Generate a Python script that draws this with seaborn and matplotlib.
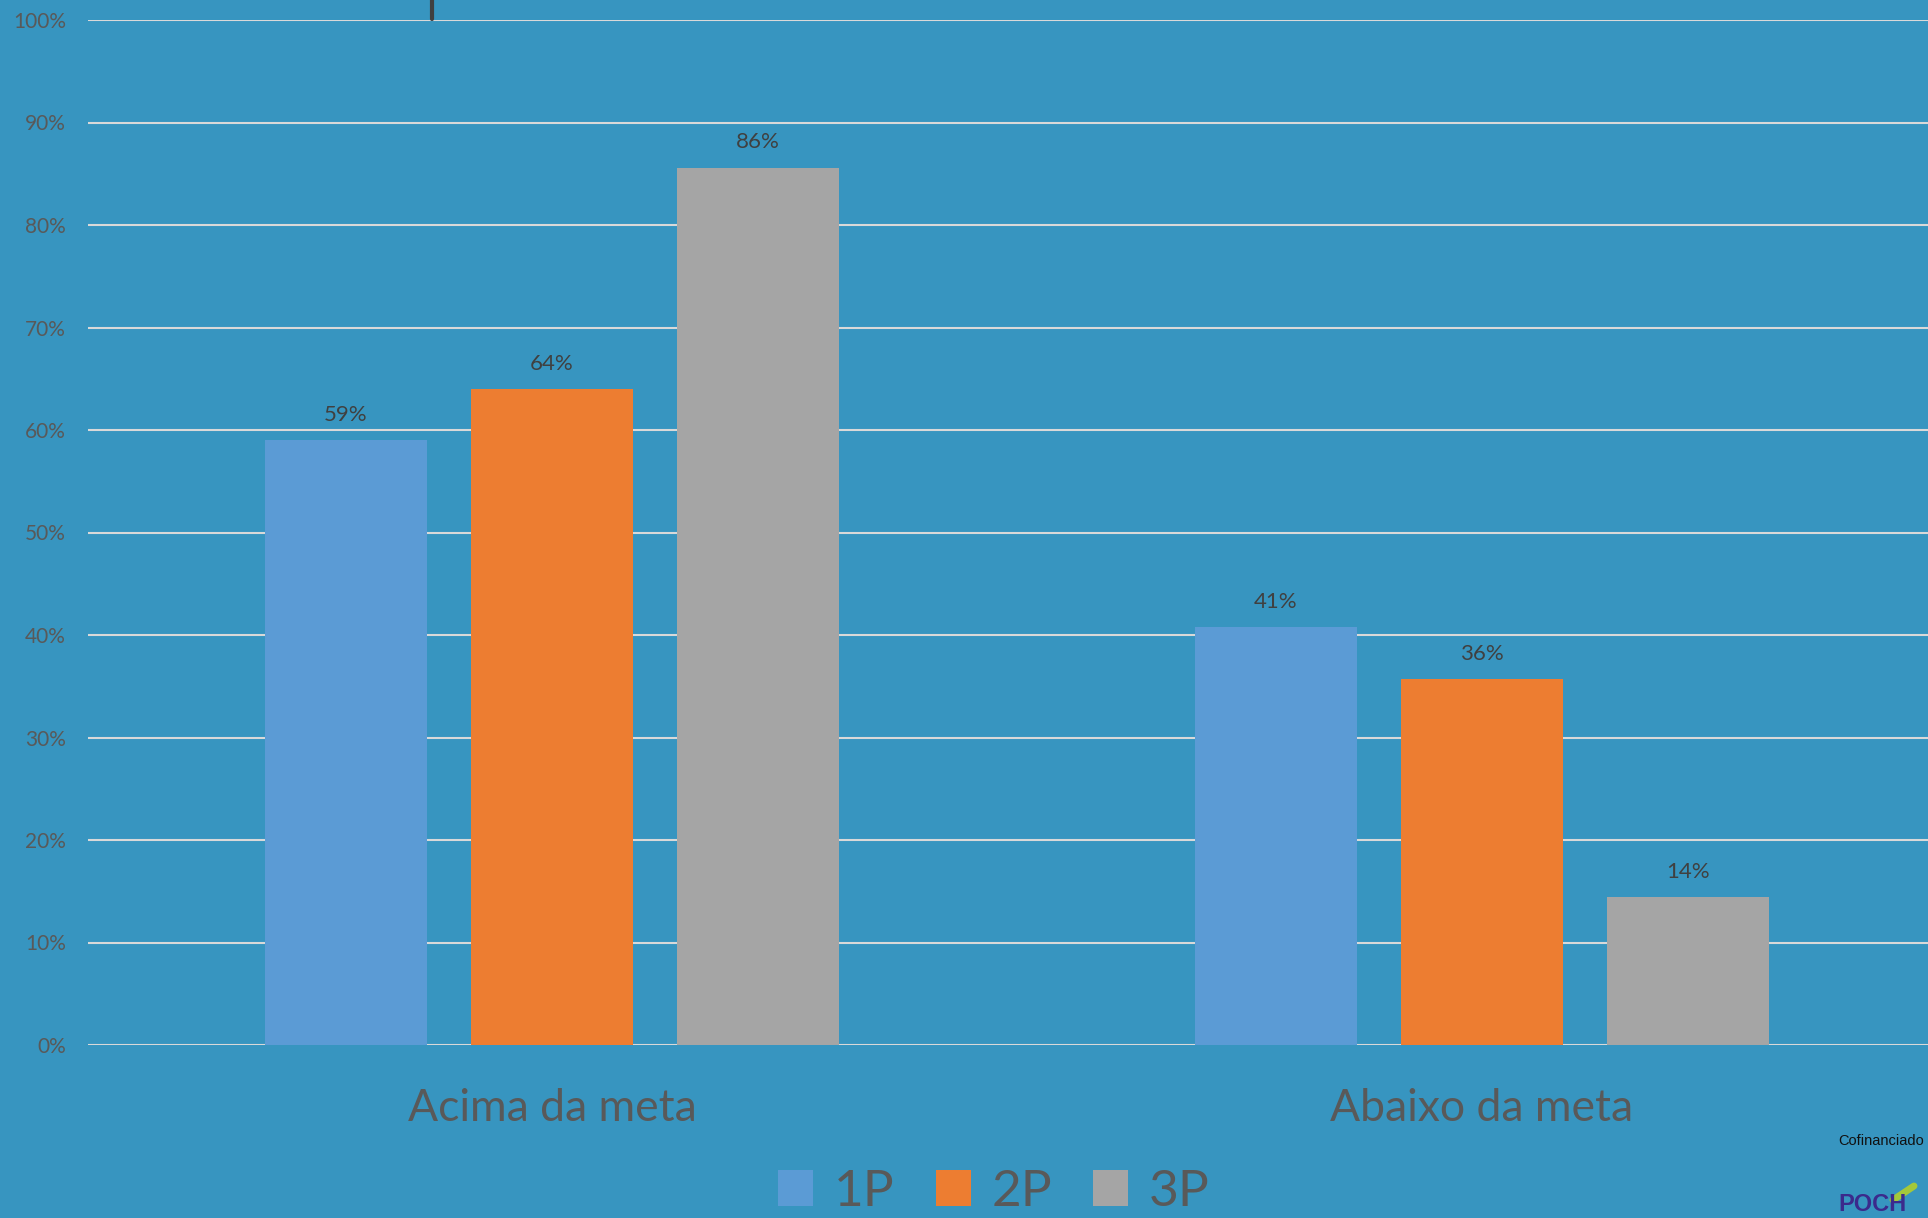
import matplotlib
matplotlib.use("Agg")
import matplotlib.pyplot as plt
import seaborn as sns
import pandas as pd
from matplotlib.patches import Patch
from matplotlib.lines import Line2D

categories = ["Acima da meta", "Abaixo da meta"]
series = ["1P", "2P", "3P"]
values_1p = [0.590, 0.408]
values_2p = [0.640, 0.357]
values_3p = [0.856, 0.144]
y_ticks = [0, 0.1, 0.2, 0.3, 0.4, 0.5, 0.6, 0.7, 0.8, 0.9, 1.0]
colors = ["#5B9BD5", "#ED7D31", "#A5A5A5"]

rows = []
for s, vals in zip(series, [values_1p, values_2p, values_3p]):
    for c, v in zip(categories, vals):
        rows.append({"cat": c, "serie": s, "val": v})
df = pd.DataFrame(rows)

BG = "#3795C0"
TXT = "#595959"

sns.set_theme(style="white")
plt.rcParams["font.family"] = ["Lato", "DejaVu Sans"]

fig = plt.figure(figsize=(19.28, 12.18), dpi=100, facecolor=BG)
ax = fig.add_axes([88 / 1928, (1218 - 1045) / 1218, 1 - 88 / 1928, (1045 - 20) / 1218])
ax.set_facecolor(BG)

sns.barplot(data=df, x="cat", y="val", hue="serie", palette=colors,
            width=0.6645, gap=0.214, ax=ax, legend=False, saturation=1,
            linewidth=0)

ax.set_xlim(-0.499, 1.48)
ax.set_ylim(0, 1.0)
ax.set_yticks(y_ticks)
ax.set_yticklabels([f"{int(round(t*100))}%" for t in y_ticks])
ax.yaxis.grid(True, color="#D9D9D9", linewidth=1.5)
ax.set_axisbelow(True)
for sp in ax.spines.values():
    sp.set_visible(False)
ax.set_xlabel("")
ax.set_ylabel("")
ax.tick_params(axis="y", length=0, pad=16, labelsize=15, labelcolor=TXT)
ax.tick_params(axis="x", length=0, pad=31, labelsize=32, labelcolor=TXT)

for cont in ax.containers:
    ax.bar_label(cont, labels=[f"{v*100:.0f}%" for v in cont.datavalues],
                 padding=11, fontsize=16, color="#404040")

handles = [Patch(facecolor=c, edgecolor="none", label=s) for s, c in zip(series, colors)]
fig.legend(handles=handles, loc="center", bbox_to_anchor=(994 / 1928, 26 / 1218),
           ncol=3, frameon=False, fontsize=37, labelcolor=TXT,
           handlelength=0.68, handleheight=0.68, handletextpad=0.4,
           columnspacing=0.8, borderaxespad=0, borderpad=0.1)

# dark mark at top
fig.add_artist(Line2D([432 / 1928, 432 / 1928], [1.0, (1218 - 19) / 1218],
                      color="#404040", linewidth=3, transform=fig.transFigure))

fig.text(1838 / 1928, (1218 - 1141) / 1218, "Cofinanciado", fontsize=10.5,
         color="#111111", family=["Liberation Sans", "DejaVu Sans"], va="center", ha="left")
fig.text(1838 / 1928, 2 / 1218, "POCH", fontsize=17, fontweight="bold",
         color="#3B2A8C", family=["Liberation Sans", "DejaVu Sans"], va="bottom", ha="left")
fig.add_artist(Line2D([1893 / 1928, 1914 / 1928], [(1218 - 1200) / 1218, (1218 - 1186) / 1218],
                      color="#A4C83A", linewidth=5, transform=fig.transFigure))

fig.savefig("out.png", dpi=100, facecolor=BG)
